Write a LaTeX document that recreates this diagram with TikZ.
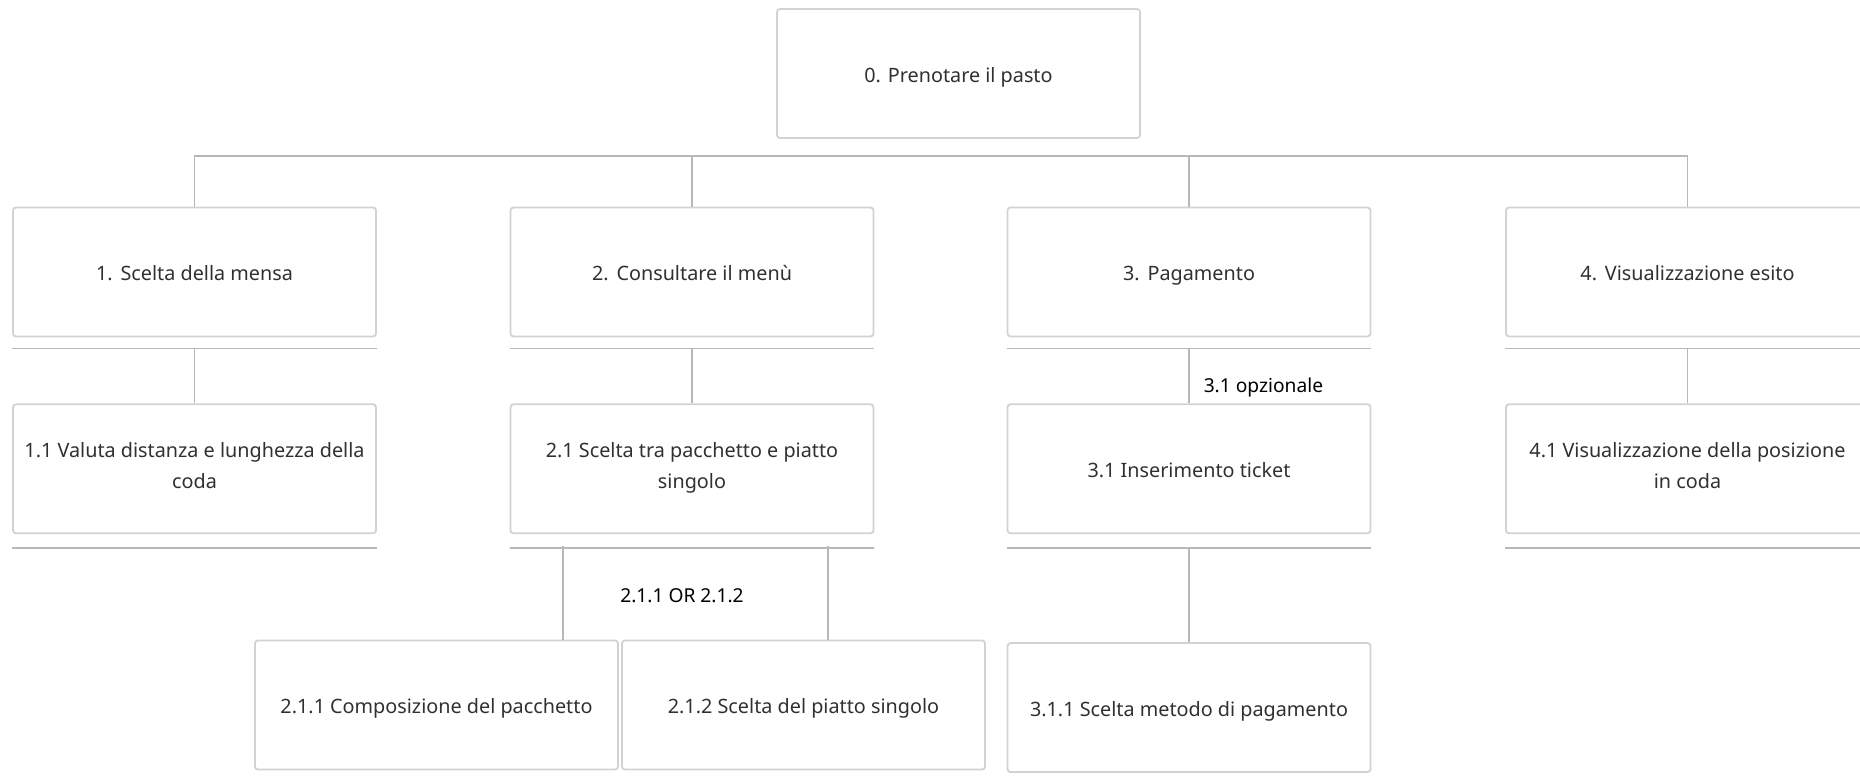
\documentclass[tikz,border=0pt]{standalone}
\usepackage{fontspec}
\setmainfont{Noto Sans}
\usepackage{tikz}
\usetikzlibrary{calc, positioning}
\definecolor{boxgray}{HTML}{D2D2D2}
\definecolor{linegray}{HTML}{B8B8B8}
\definecolor{txtgray}{HTML}{303030}
\newcommand{\boxstrut}{\rule[-3.4pt]{0pt}{15.5pt}}
\tikzstyle{task} = [rectangle, rounded corners=1.5pt, minimum width=181.5pt, minimum height=64.5pt, text centered, draw=boxgray, line width=0.9pt, align=center, text=txtgray, font=\fontsize{9.9}{15.5}\selectfont, execute at begin node={\boxstrut}, execute at end node={\boxstrut}]
\tikzstyle{rule} = [draw=linegray, line width=0.75pt]
\tikzstyle{note} = [text=black, inner sep=0pt, font=\fontsize{9.6}{12}\selectfont]

\begin{document}
\begin{tikzpicture}[x=0.5pt, y=-0.5pt, node distance=33pt]
    \useasboundingbox (0,0) rectangle (1860,779);
    \node (Root) [task] at (958.5,73.5) {0. Prenotare il pasto};
    \node (Mensa) [task] at (194.5,272) {1.\hspace{0.4em}Scelta della mensa};
    \node (Menu) [task] at (692,272) {2.\hspace{0.4em}Consultare il menù};
    \node (Pagamento) [task] at (1189,272) {3.\hspace{0.4em}Pagamento};
    \node (Esito) [task] at (1687.5,272) {4.\hspace{0.4em}Visualizzazione esito};
    \node (Distanza) [task, below = of Mensa] {1.1 Valuta distanza e lunghezza della\\coda};
    \node (Tipo) [task, below = of Menu] {2.1 Scelta tra pacchetto e piatto\\singolo};
    \node (Ticket) [task, below = of Pagamento] {3.1 Inserimento ticket};
    \node (Coda) [task, below = of Esito] {4.1 Visualizzazione della posizione\\in coda};
    \node (Pacchetto) [task] at (436.5,705) {2.1.1 Composizione del pacchetto};
    \node (Piatto) [task] at (803.5,705) {2.1.2 Scelta del piatto singolo};
    \node (Metodo) [task, below = 54pt of Ticket] {3.1.1 Scelta metodo di pagamento};
    \node (OrLabel) [note] at (682,596) {2.1.1 OR 2.1.2};
    % bar under the root
    \coordinate (Bar) at (958.5,156);
    \draw [rule] (Mensa.north) |- (Bar) -| (Esito.north);
    \draw [rule] (Menu.north) -- (Menu.north |- Bar);
    \draw [rule] (Pagamento.north) -- (Pagamento.north |- Bar);
    % rules under the boxes
    \coordinate (MensaBase) at ($(Mensa.south)+(0,11)$);
    \coordinate (MenuBase) at ($(Menu.south)+(0,11)$);
    \coordinate (PagamentoBase) at ($(Pagamento.south)+(0,11)$);
    \coordinate (EsitoBase) at ($(Esito.south)+(0,11)$);
    \coordinate (DistanzaBase) at ($(Distanza.south)+(0,14)$);
    \coordinate (TipoBase) at ($(Tipo.south)+(0,14)$);
    \coordinate (TicketBase) at ($(Ticket.south)+(0,14)$);
    \coordinate (CodaBase) at ($(Coda.south)+(0,14)$);
    \draw [rule] (MensaBase -| Mensa.west) -- (MensaBase -| Mensa.east);
    \draw [rule] (MenuBase -| Menu.west) -- (MenuBase -| Menu.east);
    \draw [rule] (PagamentoBase -| Pagamento.west) -- (PagamentoBase -| Pagamento.east);
    \draw [rule] (EsitoBase -| Esito.west) -- (EsitoBase -| Esito.east);
    \draw [rule] (DistanzaBase -| Distanza.west) -- (DistanzaBase -| Distanza.east);
    \draw [rule] (TipoBase -| Tipo.west) -- (TipoBase -| Tipo.east);
    \draw [rule] (TicketBase -| Ticket.west) -- (TicketBase -| Ticket.east);
    \draw [rule] (CodaBase -| Coda.west) -- (CodaBase -| Coda.east);
    % links to the sub-tasks
    \draw [rule] (MensaBase) -- (Distanza.north);
    \draw [rule] (MenuBase) -- (Tipo.north);
    \draw [rule] (PagamentoBase) -- (Ticket.north) node [note, pos=0.72, anchor=west, xshift=7pt] {3.1 opzionale};
    \draw [rule] (EsitoBase) -- (Coda.north);
    \coordinate (OrL) at (563,546);
    \coordinate (OrR) at (828,546);
    \draw [rule] (OrL) -- (OrL |- Pacchetto.north);
    \draw [rule] (OrR) -- (OrR |- Piatto.north);
    \draw [rule] (TicketBase) -- (Metodo.north);
\end{tikzpicture}
\end{document}
